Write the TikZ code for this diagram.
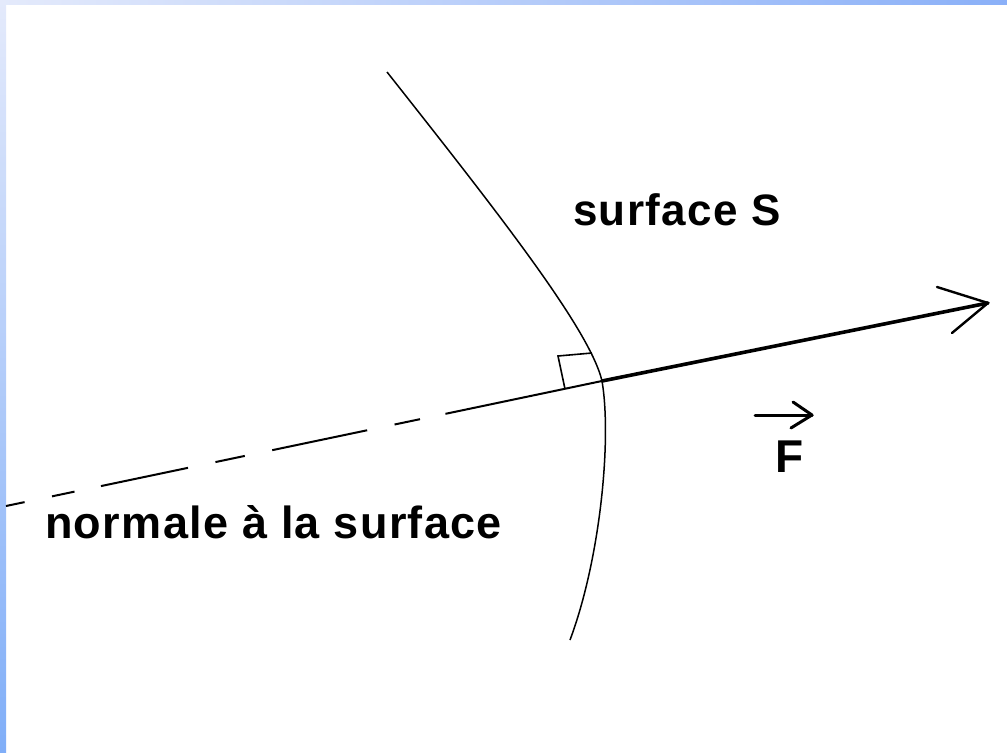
\documentclass[tikz,border=0pt]{standalone}
\usepackage{fontspec}
\newfontfamily\lab[LetterSpace=3]{Liberation Sans}
\usetikzlibrary{arrows.meta}
\definecolor{bordtop}{HTML}{E4EAFB}
\definecolor{bordbot}{HTML}{80AEF8}
\definecolor{bordright}{HTML}{8AB0F8}
\tikzset{
  lbl/.style={inner sep=0pt, anchor=base west, font=\lab\bfseries\fontsize{45bp}{52bp}\selectfont},
  surf/.style={line width=1.5bp, black},
  normdash/.style={line width=2bp, dash pattern=on 19bp off 28bp on 23bp off 27bp on 89bp off 28bp on 30bp off 28bp on 97bp off 28bp on 26bp off 26bp on 300bp},
  force/.style={line width=3.6bp, line cap=round},
  arm/.style={line width=2.4bp, line cap=round, line join=round},
  thin/.style={line width=1.6bp}
}
\begin{document}
\begin{tikzpicture}[x=1bp,y=-1bp]
\useasboundingbox (0,0) rectangle (1007,753);
\fill[white] (0,0) rectangle (1007,753);
\shade[top color=bordtop, bottom color=bordbot] (0,0) rectangle (6,753);
\shade[left color=bordtop, right color=bordright] (0,0) rectangle (1007,5);
% normal
\coordinate (L) at (6,506);
\coordinate (O) at (602,381);
\coordinate (T) at (988,303);
\coordinate (A1) at (937,287);
\coordinate (A2) at (952,333);
% surface
\coordinate (Stop) at (387,72);
\coordinate (Sbot) at (570,640);
\draw[surf] (Stop) .. controls (500,215) and (590,330) .. (O)
            .. controls (612,440) and (600,560) .. (Sbot);
\draw[normdash] (L) -- (O);
\draw[force] (O) -- (T);
\draw[arm] (A1) -- (T) -- (A2);
% right angle mark
\coordinate (R1) at (565,389);
\coordinate (R2) at (558,356);
\coordinate (R3) at (592,353);
\draw[thin] (R1) -- (R2) -- (R3);
% labels
\node[lbl, font=\lab\bfseries\fontsize{44bp}{50bp}\selectfont] (S) at (573,225) {surface S};
\node[lbl] (N) at (45,538) {normale à la surface};
\node[lbl, font=\lab\bfseries\fontsize{46bp}{52bp}\selectfont] (F) at (775,472) {F};
\coordinate (V1) at (755,415);
\coordinate (V2) at (812,415);
\coordinate (V3) at (793,402);
\coordinate (V4) at (791,428);
\draw[arm, line width=3bp] (V1) -- (V2);
\draw[arm, line width=3bp] (V3) -- (V2) -- (V4);
\end{tikzpicture}
\end{document}
